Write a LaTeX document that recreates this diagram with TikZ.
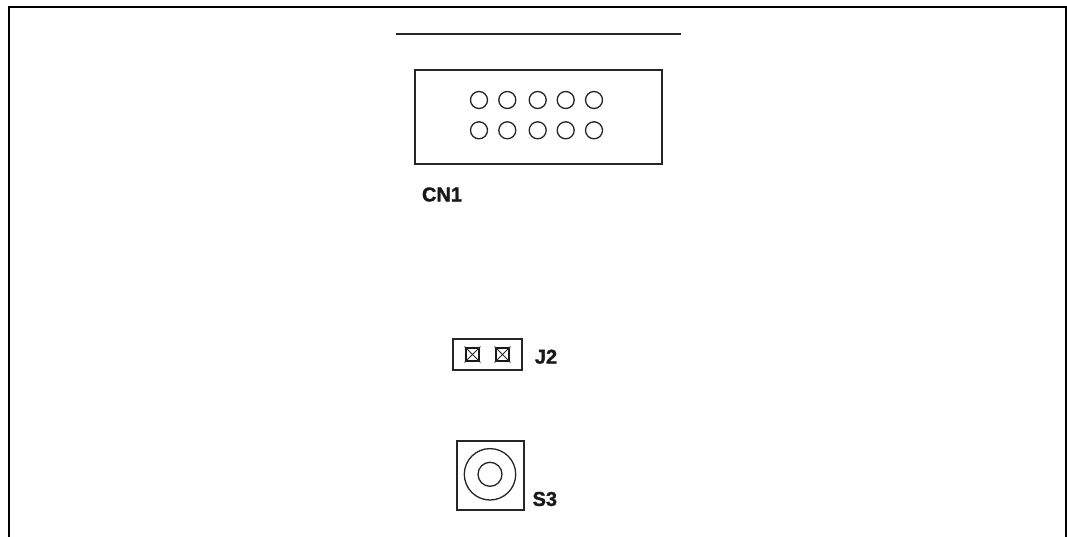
\documentclass[tikz,border=0pt]{standalone}
\usepackage{fontspec}
\setmainfont[BoldFeatures={FakeBold=1.6}]{Liberation Sans}
\begin{document}
\begin{tikzpicture}[x=1pt,y=-1pt,
  frameline/.style={draw=black,line width=2pt},
  partline/.style={draw=black!85,line width=2pt},
  pin/.style={circle,draw=black!85,line width=1.3pt,minimum size=17pt,inner sep=0pt,outer sep=0pt},
  smallsq/.style={rectangle,draw=black!90,line width=2.4pt,minimum size=13.5pt,inner sep=0pt},
  partbox/.style={rectangle,partline,inner sep=0pt,outer sep=0pt},
  partlabel/.style={font=\fontsize{20}{20}\selectfont\bfseries,inner sep=0pt,text=black!90}]
\useasboundingbox (0,0) rectangle (1067,537);
\fill[white] (0,0) rectangle (1067,537);
\coordinate (fbl) at (9,537);
\coordinate (ftl) at (9,7);
\coordinate (ftr) at (1066,7);
\coordinate (fbr) at (1066,537);
\draw[frameline,line join=miter] (fbl) -- (ftl) -- (ftr) -- (fbr);
\coordinate (la) at (396,34);
\coordinate (lb) at (681,34);
\draw[partline] (la) -- (lb);
\node[partbox,minimum width=247pt,minimum height=94pt] (cn) at (538.5,117) {};
\foreach \x/\n in {479/a,507.3/b,537.7/c,565.7/d,594/e}{
  \node[pin] (p1\n) at (\x,100) {};
  \node[pin] (p2\n) at (\x,130.3) {};
}
\node[partlabel] (cnl) at (442,194.5) {CN1};
\node[partbox,minimum width=69pt,minimum height=31pt] (j2) at (487,354.5) {};
\node[smallsq] (sa) at (472.5,354.5) {};
\node[smallsq] (sb) at (502.5,354.5) {};
\foreach \s in {sa,sb}{
  \draw[black!85,line width=0.9pt] (\s.north west) -- (\s.south east);
  \draw[black!85,line width=0.9pt] (\s.north east) -- (\s.south west);
}
\node[partlabel] (j2l) at (546,356.7) {J2};
\node[partbox,minimum width=67pt,minimum height=69pt] (s3) at (490.5,475.5) {};
\node[pin,minimum size=51.4pt] (so) at (490,474.3) {};
\node[pin,minimum size=24pt] (si) at (490,474.3) {};
\node[partlabel] (s3l) at (544.8,499) {S3};
\end{tikzpicture}
\end{document}
